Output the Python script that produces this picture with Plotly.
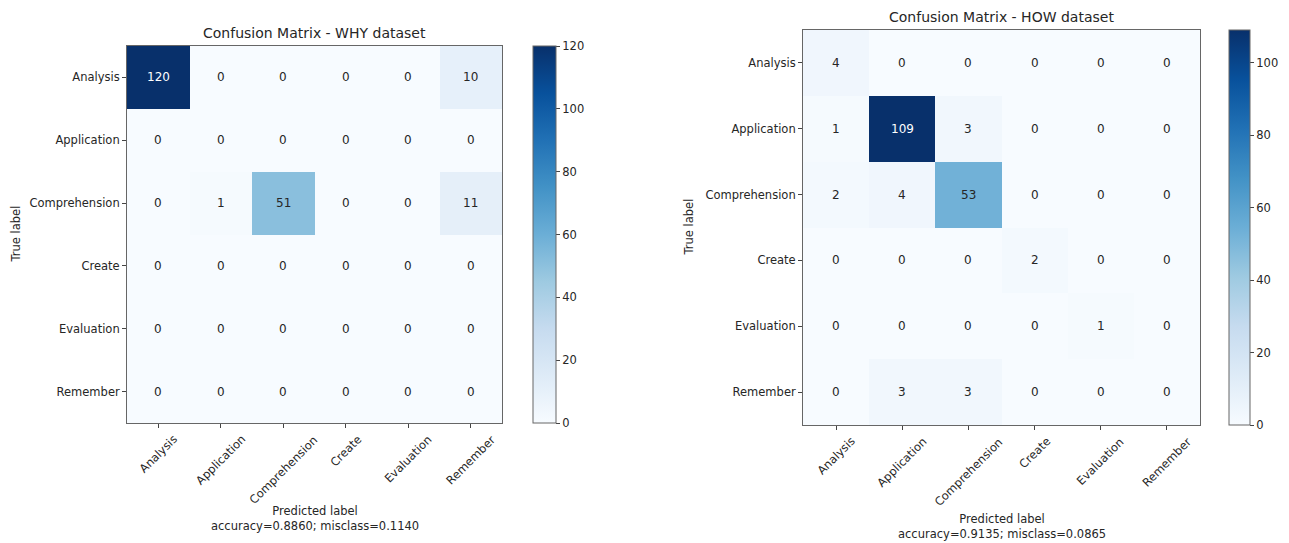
import plotly.graph_objects as go
import plotly.colors as pc

labels = ["Analysis", "Application", "Comprehension", "Create", "Evaluation", "Remember"]

why_matrix = [
    [120, 0, 0, 0, 0, 10],
    [0, 0, 0, 0, 0, 0],
    [0, 1, 51, 0, 0, 11],
    [0, 0, 0, 0, 0, 0],
    [0, 0, 0, 0, 0, 0],
    [0, 0, 0, 0, 0, 0],
]
how_matrix = [
    [4, 0, 0, 0, 0, 0],
    [1, 109, 3, 0, 0, 0],
    [2, 4, 53, 0, 0, 0],
    [0, 0, 0, 2, 0, 0],
    [0, 0, 0, 0, 1, 0],
    [0, 3, 3, 0, 0, 0],
]
why_title = "Confusion Matrix - WHY dataset"
how_title = "Confusion Matrix - HOW dataset"
why_xlabel = "Predicted label<br>accuracy=0.8860; misclass=0.1140"
how_xlabel = "Predicted label<br>accuracy=0.9135; misclass=0.0865"
ylabel = "True label"
cbar_ticks_why = [0, 20, 40, 60, 80, 100, 120]
cbar_ticks_how = [0, 20, 40, 60, 80, 100]

W, H = 1289, 543
FONT = "DejaVu Sans"
TXT = "#262626"
blues = pc.sequential.Blues

def px_x(p):
    return p / W

def px_y(p):
    return 1 - p / H

fig = go.Figure()

panels = [
    dict(m=why_matrix, title=why_title, xlabel=why_xlabel, ticks=cbar_ticks_why,
         x0=127, x1=502, y0=46, y1=423, cb0=533, cbw=23, xa="x", ya="y",
         title_y=33, ylab_x=15, xlab_y=518),
    dict(m=how_matrix, title=how_title, xlabel=how_xlabel, ticks=cbar_ticks_how,
         x0=803, x1=1200, y0=30, y1=425, cb0=1229, cbw=21, xa="x2", ya="y2",
         title_y=17, ylab_x=688, xlab_y=526),
]

layout_axes = {}
annotations = []
for i, p in enumerate(panels):
    m = p["m"]
    zmax = max(max(r) for r in m)
    fig.add_trace(go.Heatmap(
        z=m, x=labels, y=labels, xaxis=p["xa"], yaxis=p["ya"],
        colorscale=blues, zmin=0, zmax=zmax,
        colorbar=dict(
            x=px_x(p["cb0"]), xanchor="left", xpad=0, ypad=0,
            y=px_y(p["y1"]), yanchor="bottom",
            len=(p["y1"] - p["y0"]) / H, lenmode="fraction",
            thickness=p["cbw"], thicknessmode="pixels",
            outlinewidth=1, outlinecolor="#666",
            tickvals=p["ticks"], ticks="outside", ticklen=4, tickcolor="#444",
            tickfont=dict(family=FONT, size=11.5, color=TXT),
        ),
        hoverongaps=False,
    ))
    suffix = "" if i == 0 else "2"
    layout_axes["xaxis" + suffix] = dict(
        domain=[px_x(p["x0"]), px_x(p["x1"])], anchor="y" + suffix,
        type="category", ticks="outside", ticklen=4, tickcolor="#444",
        showticklabels=False,
        showline=True, linecolor="#666", linewidth=1, mirror=True,
        automargin=False, showgrid=False, zeroline=False,
    )
    layout_axes["yaxis" + suffix] = dict(
        domain=[px_y(p["y1"]), px_y(p["y0"])], anchor="x" + suffix,
        type="category", autorange="reversed", ticks="outside", ticklen=4, tickcolor="#444",
        showline=True, linecolor="#666", linewidth=1, mirror=True,
        tickfont=dict(family=FONT, size=11.5, color=TXT), automargin=False,
        showgrid=False, zeroline=False,
    )
    thresh = zmax / 2
    for r, row in enumerate(m):
        for c, v in enumerate(row):
            annotations.append(dict(
                x=labels[c], y=labels[r], xref=p["xa"], yref=p["ya"],
                text=str(v), showarrow=False,
                font=dict(family=FONT, size=12, color="white" if v > thresh else TXT),
            ))
    # rotated x tick labels, centred on their ticks (matplotlib style)
    for lab in labels:
        annotations.append(dict(
            x=lab, y=px_y(p["y1"] + 7), xref=p["xa"], yref="paper",
            text=lab, showarrow=False, textangle=-45,
            xanchor="center", yanchor="top",
            font=dict(family=FONT, size=11.5, color=TXT),
        ))
    cx = (p["x0"] + p["x1"]) / 2
    annotations.append(dict(
        x=px_x(cx), y=px_y(p["title_y"]), xref="paper", yref="paper",
        text=p["title"], showarrow=False, xanchor="center", yanchor="middle",
        font=dict(family=FONT, size=14, color=TXT),
    ))
    annotations.append(dict(
        x=px_x(cx), y=px_y(p["xlab_y"]), xref="paper", yref="paper",
        text=p["xlabel"], showarrow=False, xanchor="center", yanchor="middle",
        font=dict(family=FONT, size=11.5, color=TXT),
    ))
    annotations.append(dict(
        x=px_x(p["ylab_x"]), y=px_y((p["y0"] + p["y1"]) / 2), xref="paper", yref="paper",
        text=ylabel, showarrow=False, textangle=-90, xanchor="center", yanchor="middle",
        font=dict(family=FONT, size=11.5, color=TXT),
    ))

fig.update_layout(
    width=W, height=H,
    margin=dict(l=0, r=0, t=0, b=0),
    paper_bgcolor="white", plot_bgcolor="white",
    showlegend=False,
    annotations=annotations,
    **layout_axes,
)

fig.write_html("out.html", config={"displayModeBar": False},
               post_script="document.body.style.margin='0';")
